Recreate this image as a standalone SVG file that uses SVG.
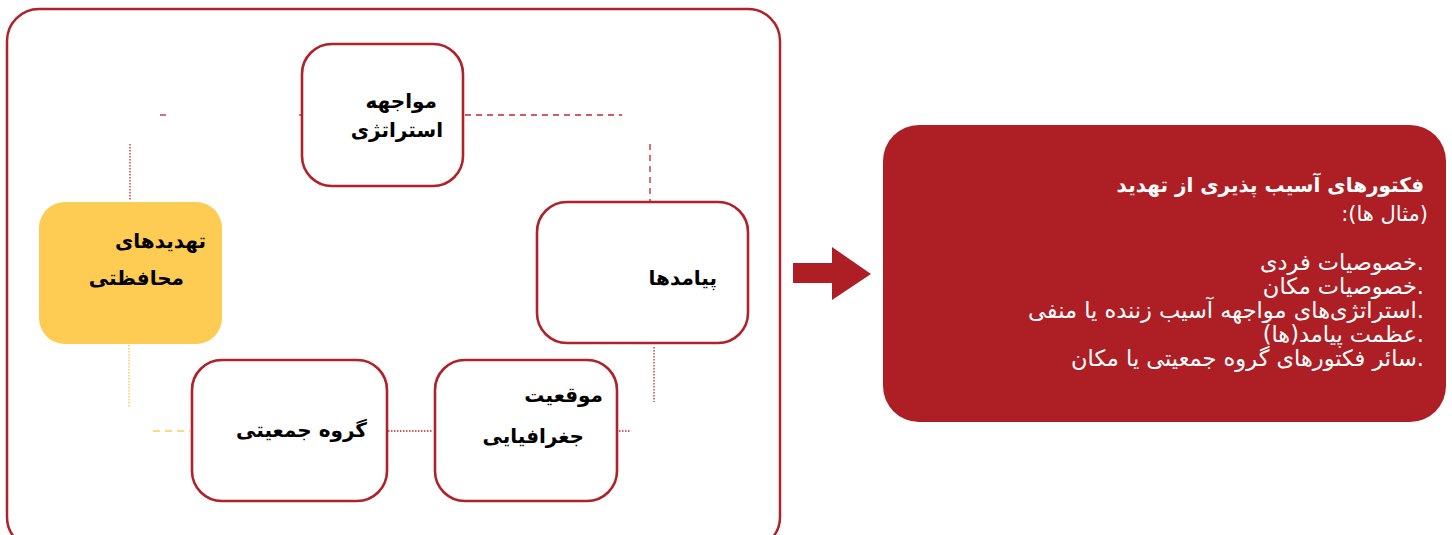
<svg xmlns="http://www.w3.org/2000/svg" width="1452" height="535" viewBox="0 0 1452 535">
<style>
.frame{fill:#fff;stroke:#AF2229;stroke-width:2.5}
.node{fill:#fff;stroke:#AF2229;stroke-width:2.6}
.yel{fill:#FECB53}
.red{fill:#AD1F24}
.lbl{font-family:"DejaVu Sans",sans-serif;font-weight:bold;font-size:20px;fill:#000;direction:rtl;text-anchor:start}
.wt{font-family:"DejaVu Sans",sans-serif;font-size:22.5px;fill:#fff;direction:rtl;text-anchor:start}
.wtb{font-weight:bold;font-size:20px}
.dash{stroke:#C0282E;stroke-width:1.3;fill:none;stroke-dasharray:6 5}
.dot{stroke:#C0282E;stroke-width:1.3;fill:none;stroke-dasharray:1.5 1.5}
.ydash{stroke:#FECB53;stroke-width:1.5;fill:none;stroke-dasharray:7 5}
.ydot{stroke:#FECB53;stroke-width:1.5;fill:none;stroke-dasharray:1.5 1.5}
</style>
<rect class="frame" x="7" y="9" width="773" height="540" rx="32"/>
<g id="connectors">
<line class="dash" x1="160" y1="115" x2="166" y2="115" style="stroke-dasharray:none"/>
<line class="dash" x1="299" y1="115" x2="303" y2="115" style="stroke-dasharray:none"/>
<line class="dash" x1="465" y1="115" x2="622" y2="115"/>
<line class="dash" x1="650" y1="144" x2="650" y2="201"/>
<line class="dot" x1="130" y1="144" x2="130" y2="200"/>
<line class="ydot" x1="129" y1="345" x2="129" y2="407"/>
<line class="ydash" x1="153" y1="431" x2="190" y2="431"/>
<line class="dot" x1="388" y1="431" x2="432" y2="431"/>
<line class="dot" x1="619" y1="431" x2="631" y2="431"/>
<line class="dot" x1="654" y1="347" x2="654" y2="402"/>
<path class="dot" d="M572,413 Q578,392 597,386"/>
<rect x="440" y="114" width="3" height="3" fill="#AF2229"/>
</g>
<g id="n-strategy">
<rect class="node" x="302" y="44" width="161" height="142" rx="30"/>
<text class="lbl" x="437" y="108">مواجهه</text>
<text class="lbl" x="443" y="137">استراتژی</text>
</g>
<g id="n-threats">
<rect class="yel" x="39" y="202" width="183" height="142" rx="26"/>
<text class="lbl" x="206" y="248">تهدیدهای</text>
<text class="lbl" x="184" y="285">محافظتی</text>
</g>
<g id="n-outcomes">
<rect class="node" x="537" y="202" width="211" height="141" rx="30"/>
<text class="lbl" x="717" y="285">پیامدها</text>
</g>
<g id="n-group">
<rect class="node" x="192" y="360" width="195" height="141" rx="30"/>
<text class="lbl" x="367" y="437">گروه جمعیتی</text>
</g>
<g id="n-location">
<rect class="node" x="435" y="360" width="182" height="141" rx="30"/>
<text class="lbl" x="603" y="402">موقعیت</text>
<text class="lbl" x="584" y="443">جغرافیایی</text>
</g>
<g id="arrow">
<polygon class="red" points="793,263 832,263 832,247 871,274 832,300 832,283 793,283"/>
</g>
<g id="n-factors">
<rect class="red" x="883" y="125" width="563" height="297" rx="36"/>
<text class="wt wtb" x="1424" y="192">فکتورهای آسیب پذیری از تهدید</text>
<text class="wt" x="1428" y="221" style="font-size:21px">(مثال ها):</text>
<text class="wt" x="1424" y="270">.خصوصیات فردی</text>
<text class="wt" x="1424" y="294">.خصوصیات مکان</text>
<text class="wt" x="1424" y="318">.استراتژی‌های مواجهه آسیب زننده یا منفی</text>
<text class="wt" x="1424" y="342">.عظمت پیامد(ها)</text>
<text class="wt" x="1424" y="366">.سائر فکتورهای گروه جمعیتی یا مکان</text>
</g>
</svg>
